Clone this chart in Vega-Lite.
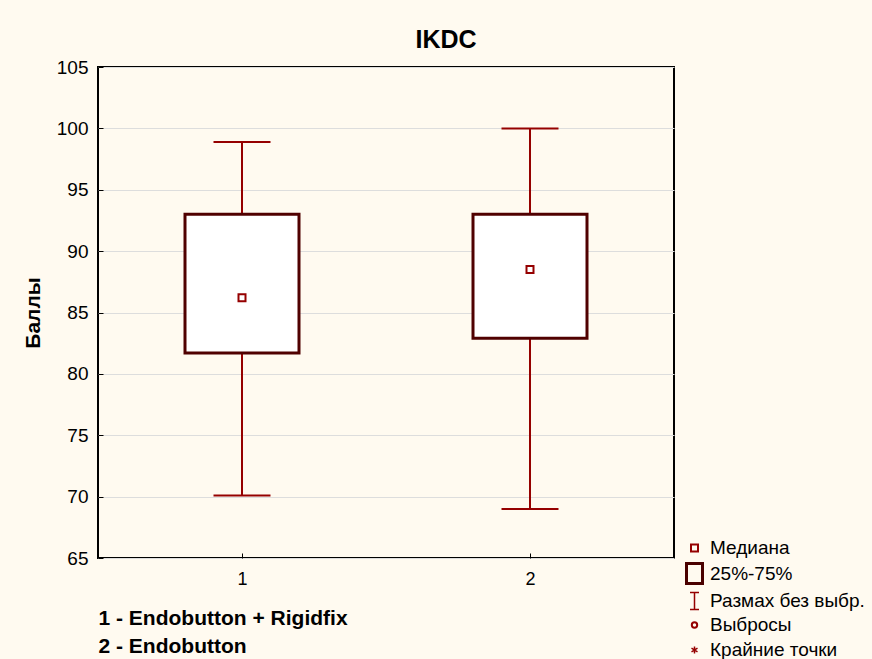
{
  "$schema": "https://vega.github.io/schema/vega-lite/v6.json",
  "autosize": "none",
  "width": 576,
  "height": 491,
  "padding": {"left": 98, "top": 67, "right": 198, "bottom": 101},
  "background": "#FFFAF0",
  "config": {
    "font": "Liberation Sans",
    "view": {"stroke": "black", "strokeWidth": 2, "fill": "white"},
    "axis": {"labelFont": "Liberation Sans", "labelFontSize": 18, "labelColor": "black", "titleColor": "black", "domain": false, "tickColor": "black", "tickWidth": 1},
    "legend": {"labelFont": "Liberation Sans", "labelFontSize": 19, "labelColor": "black"}
  },
  "title": {"text": "IKDC", "fontSize": 25, "fontWeight": "bold", "font": "Liberation Sans", "color": "black", "anchor": "middle", "dx": 60, "offset": 5},
  "layer": [
    {
      "data": {"name": "boxes", "values": [
        {"group": "1", "lo": 70.1, "q1": 81.7, "median": 86.2, "q3": 93.0, "hi": 98.9},
        {"group": "2", "lo": 69.0, "q1": 82.9, "median": 88.5, "q3": 93.0, "hi": 100.0}
      ]},
      "layer": [
        {
          "mark": {"type": "rule", "color": "#950000", "strokeWidth": 2},
          "encoding": {
            "x": {"field": "group", "type": "nominal", "scale": {"type": "point", "domain": ["1", "2"], "padding": 0.5},
              "axis": {"title": ["1 - Endobutton + Rigidfix", "2 - Endobutton"], "labelAngle": 0, "tickSize": -5, "labelPadding": 17, "titleFontSize": 21, "titleFontWeight": "bold", "titleAnchor": "start", "titleAlign": "left", "titleLineHeight": 28, "titlePadding": 19, "titleFont": "Liberation Sans"}},
            "y": {"field": "lo", "type": "quantitative", "scale": {"domain": [65, 105], "nice": false, "zero": false},
              "axis": {"title": "Баллы", "values": [65, 70, 75, 80, 85, 90, 95, 100, 105], "grid": true, "gridColor": "#DDDDDD", "gridWidth": 1, "tickSize": -5, "labelPadding": 15, "labelFontSize": 19, "titleFontSize": 21, "titleFontWeight": "bold", "titleFont": "Liberation Sans", "titlePadding": 13}},
            "y2": {"field": "hi"}
          }
        },
        {
          "mark": {"type": "tick", "color": "#950000", "size": 57, "thickness": 2, "opacity": 1},
          "encoding": {
            "x": {"field": "group", "type": "nominal"},
            "y": {"field": "lo", "type": "quantitative"}
          }
        },
        {
          "mark": {"type": "tick", "color": "#950000", "size": 57, "thickness": 2, "opacity": 1},
          "encoding": {
            "x": {"field": "group", "type": "nominal"},
            "y": {"field": "hi", "type": "quantitative"}
          }
        },
        {
          "mark": {"type": "bar", "width": 114, "fill": "white", "stroke": "#500000", "strokeWidth": 3},
          "encoding": {
            "x": {"field": "group", "type": "nominal"},
            "y": {"field": "q1", "type": "quantitative"},
            "y2": {"field": "q3"}
          }
        },
        {
          "mark": {"type": "point", "shape": "square", "size": 49, "fill": "white", "stroke": "#950000", "strokeWidth": 2, "opacity": 1},
          "encoding": {
            "x": {"field": "group", "type": "nominal"},
            "y": {"field": "median", "type": "quantitative"}
          }
        }
      ]
    },
    {
      "data": {"name": "legenditems", "values": [
        {"item": "Медиана"},
        {"item": "25%-75%"},
        {"item": "Размах без выбр."},
        {"item": "Выбросы"},
        {"item": "Крайние точки"}
      ]},
      "mark": {"type": "point", "filled": false, "opacity": 0, "size": 400},
      "encoding": {
        "shape": {"field": "item", "type": "nominal",
          "scale": {"type": "ordinal", "domain": ["Медиана", "25%-75%", "Размах без выбр.", "Выбросы", "Крайние точки"],
            "range": [
              "M-0.35,-0.35H0.35V0.35H-0.35ZM-1,-1M1,1",
              "M-0.8,-1H0.8V1H-0.8ZM-1,-1M1,1",
              "M-0.45,-0.85H0.45M0,-0.85V0.85M-0.45,0.85H0.45M-1,-1M1,1",
              "M0.27,0A0.27,0.27 0 1,1 -0.27,0A0.27,0.27 0 1,1 0.27,0ZM-1,-1M1,1",
              "M0,-0.35V0.35M-0.3,-0.18L0.3,0.18M-0.3,0.18L0.3,-0.18M-1,-1M1,1"
            ]},
          "legend": {"title": null, "orient": "none", "legendX": 585, "legendY": 470, "rowPadding": -6, "labelOffset": 4, "symbolSize": 400, "encode": {"symbols": {"update": {"opacity": {"value": 1}, "fill": {"value": "transparent"}}}}}},
        "stroke": {"field": "item", "type": "nominal",
          "scale": {"domain": ["Медиана", "25%-75%", "Размах без выбр.", "Выбросы", "Крайние точки"], "range": ["#950000", "#4A0000", "#950000", "#950000", "#950000"]},
          "legend": {"title": null, "orient": "none", "legendX": 585, "legendY": 470, "rowPadding": -6, "labelOffset": 4, "symbolSize": 400, "encode": {"symbols": {"update": {"opacity": {"value": 1}, "fill": {"value": "transparent"}}}}}},
        "strokeWidth": {"field": "item", "type": "nominal",
          "scale": {"type": "ordinal", "domain": ["Медиана", "25%-75%", "Размах без выбр.", "Выбросы", "Крайние точки"], "range": [2, 3, 1.5, 2, 1.5]},
          "legend": {"title": null, "orient": "none", "legendX": 585, "legendY": 470, "rowPadding": -6, "labelOffset": 4, "symbolSize": 400, "encode": {"symbols": {"update": {"opacity": {"value": 1}, "fill": {"value": "transparent"}}}}}}
      }
    }
  ],
  "resolve": {"scale": {"x": "shared", "y": "shared"}}
}
